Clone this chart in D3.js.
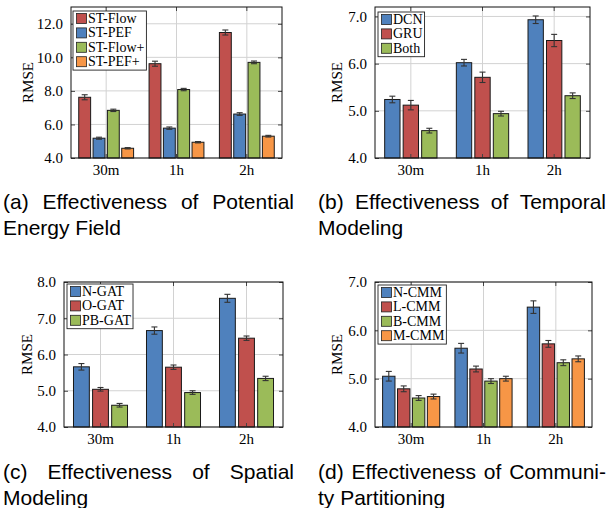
<!DOCTYPE html>
<html><head><meta charset="utf-8">
<script src="https://cdn.jsdelivr.net/npm/d3@7"></script>
<style>body{margin:0;background:#fff} svg{display:block}</style>
</head><body>
<script>
// ---------- DATA ----------
const categories = ["30m", "1h", "2h"];

const seriesA = ["ST-Flow", "ST-PEF", "ST-Flow+", "ST-PEF+"];
const valuesA = [[7.62, 9.62, 11.48], [5.18, 5.78, 6.62], [6.84, 8.08, 9.70], [4.58, 4.94, 5.30]];
const errorsA = [[0.15, 0.15, 0.15], [0.06, 0.07, 0.08], [0.07, 0.07, 0.08], [0.04, 0.04, 0.05]];
const ticksA = [4, 6, 8, 10, 12];
const captionA = ["(a) Effectiveness of Potential", "Energy Field"];

const seriesB = ["DCN", "GRU", "Both"];
const valuesB = [[5.24, 6.02, 6.93], [5.12, 5.71, 6.49], [4.58, 4.94, 5.32]];
const errorsB = [[0.07, 0.07, 0.08], [0.10, 0.11, 0.13], [0.05, 0.05, 0.06]];
const ticksB = [4, 5, 6, 7];
const captionB = ["(b) Effectiveness of Temporal", "Modeling"];

const seriesC = ["N-GAT", "O-GAT", "PB-GAT"];
const valuesC = [[5.66, 6.66, 7.55], [5.04, 5.65, 6.45], [4.60, 4.95, 5.34]];
const errorsC = [[0.09, 0.10, 0.11], [0.05, 0.06, 0.06], [0.05, 0.05, 0.06]];
const ticksC = [4, 5, 6, 7, 8];
const captionC = ["(c) Effectiveness of Spatial", "Modeling"];

const seriesD = ["N-CMM", "L-CMM", "B-CMM", "M-CMM"];
const valuesD = [[5.05, 5.63, 6.48], [4.79, 5.20, 5.72], [4.60, 4.95, 5.33], [4.63, 5.00, 5.41]];
const errorsD = [[0.10, 0.10, 0.13], [0.06, 0.06, 0.07], [0.05, 0.05, 0.06], [0.05, 0.05, 0.06]];
const ticksD = [4, 5, 6, 7];
const captionD = ["(d) Effectiveness of Communi-", "ty Partitioning"];

// ---------- STYLE / LAYOUT ----------
const RED = "#c0504d", BLUE = "#4f81bd", GREEN = "#9bbb59", ORANGE = "#f79646";
const SERIF = "'Liberation Serif', 'Times New Roman', serif";
const SANS = "'Liberation Sans', Arial, Helvetica, sans-serif";

const panels = [
  {series: seriesA, values: valuesA, errors: errorsA, ticks: ticksA, domain: [4, 13],
   colors: [RED, BLUE, GREEN, ORANGE], frame: [71, 282, 7, 158], group: 0.78,
   legend: [73, 11], ylabX: 27.5, caption: captionA, cap: [3, 294, 209]},
  {series: seriesB, values: valuesB, errors: errorsB, ticks: ticksB, domain: [4, 7.2],
   colors: [BLUE, RED, GREEN], frame: [375, 590, 7, 158], group: 0.73,
   legend: [378, 12], ylabX: 337, caption: captionB, cap: [318, 606, 209]},
  {series: seriesC, values: valuesC, errors: errorsC, ticks: ticksC, domain: [4, 8],
   colors: [BLUE, RED, GREEN], frame: [64, 283, 282, 427], group: 0.74,
   legend: [67, 284], ylabX: 27, caption: captionC, cap: [3, 294, 479]},
  {series: seriesD, values: valuesD, errors: errorsD, ticks: ticksD, domain: [4, 7],
   colors: [BLUE, RED, GREEN, ORANGE], frame: [375, 592, 282, 427], group: 0.79,
   legend: [378, 285], ylabX: 337, caption: captionD, cap: [318, 606, 479]}
];

const svg = d3.select("body").append("svg").attr("width", 608).attr("height", 508);

panels.forEach(p => {
  const [x0, x1, y0, y1] = p.frame;
  const g = svg.append("g");
  const x = d3.scaleBand().domain(categories).range([x0, x1]).padding(0);
  const y = d3.scaleLinear().domain(p.domain).range([y1, y0]);
  const gw = x.bandwidth() * p.group;
  const xi = d3.scaleBand().domain(p.series).range([0, gw]).paddingInner(0.17);

  // grid
  g.append("g").selectAll("line").data(p.ticks).join("line")
    .attr("x1", x0).attr("x2", x1).attr("y1", d => y(d)).attr("y2", d => y(d))
    .attr("stroke", "#d2d2d2").attr("stroke-width", 1);
  g.append("g").selectAll("line").data(categories).join("line")
    .attr("x1", d => x(d) + x.bandwidth() / 2).attr("x2", d => x(d) + x.bandwidth() / 2)
    .attr("y1", y0).attr("y2", y1)
    .attr("stroke", "#d2d2d2").attr("stroke-width", 1);

  // bars
  p.series.forEach((s, si) => {
    const data = categories.map((c, ci) => ({c, v: p.values[si][ci], e: p.errors[si][ci]}));
    const bx = d => x(d.c) + x.bandwidth() / 2 - gw / 2 + xi(s);
    g.append("g").selectAll("rect").data(data).join("rect")
      .attr("x", bx).attr("width", xi.bandwidth())
      .attr("y", d => y(d.v)).attr("height", d => y(p.domain[0]) - y(d.v))
      .attr("fill", p.colors[si]).attr("stroke", "#1a1a1a").attr("stroke-width", 1);
    const eb = g.append("g").attr("stroke", "#333").attr("stroke-width", 1.1);
    data.forEach(d => {
      const cx = bx(d) + xi.bandwidth() / 2;
      eb.append("line").attr("x1", cx).attr("x2", cx).attr("y1", y(d.v - d.e)).attr("y2", y(d.v + d.e));
      eb.append("line").attr("x1", cx - 3).attr("x2", cx + 3).attr("y1", y(d.v - d.e)).attr("y2", y(d.v - d.e));
      eb.append("line").attr("x1", cx - 3).attr("x2", cx + 3).attr("y1", y(d.v + d.e)).attr("y2", y(d.v + d.e));
    });
  });

  // axes (inward ticks, mirrored)
  const fmt = d3.format(".1f");
  const left = g.append("g").attr("transform", `translate(${x0},0)`)
    .call(d3.axisLeft(y).tickValues(p.ticks).tickFormat(fmt).tickSizeInner(-4).tickSizeOuter(0).tickPadding(8));
  const right = g.append("g").attr("transform", `translate(${x1},0)`)
    .call(d3.axisRight(y).tickValues(p.ticks).tickFormat("").tickSizeInner(-4).tickSizeOuter(0));
  const bottom = g.append("g").attr("transform", `translate(0,${y1})`)
    .call(d3.axisBottom(x).tickSizeInner(-4).tickSizeOuter(0).tickPadding(6));
  const top = g.append("g").attr("transform", `translate(0,${y0})`)
    .call(d3.axisTop(x).tickFormat("").tickSizeInner(-4).tickSizeOuter(0));
  [left, right, bottom, top].forEach(a => {
    a.select(".domain").remove();
    a.selectAll(".tick line").attr("stroke", "#444");
    a.selectAll("text").attr("font-family", SERIF).attr("fill", "#000");
  });
  left.selectAll("text").attr("font-size", 15);
  bottom.selectAll("text").attr("font-size", 15);

  // frame
  g.append("rect").attr("x", x0).attr("y", y0).attr("width", x1 - x0).attr("height", y1 - y0)
    .attr("fill", "none").attr("stroke", "#111").attr("stroke-width", 1);

  // y label
  g.append("text").attr("transform", `translate(${p.ylabX},${(y0 + y1) / 2}) rotate(-90)`)
    .attr("text-anchor", "middle").attr("dominant-baseline", "central")
    .attr("font-family", SERIF).attr("font-size", 15).text("RMSE");

  // legend
  const [lx, ly] = p.legend;
  const rowH = 14.4;
  const lg = g.append("g");
  const box = lg.append("rect").attr("x", lx).attr("y", ly).attr("height", p.series.length * rowH + 1.5)
    .attr("fill", "#fff").attr("stroke", "#222").attr("stroke-width", 0.9);
  let maxW = 0;
  p.series.forEach((s, si) => {
    const cy = ly + 7.5 + si * rowH;
    lg.append("rect").attr("x", lx + 3.5).attr("y", cy - 5).attr("width", 10).attr("height", 10)
      .attr("fill", p.colors[si]).attr("stroke", "#222").attr("stroke-width", 0.8);
    const t = lg.append("text").attr("x", lx + 15).attr("y", cy).attr("dominant-baseline", "central")
      .attr("font-family", SERIF).attr("font-size", 14).text(s);
    maxW = Math.max(maxW, t.node().getComputedTextLength());
  });
  box.attr("width", 15 + maxW + 2);

  // caption
  const [cx0, cx1, cy0] = p.cap;
  const lineH = 25.5;
  p.caption.forEach((line, li) => {
    const yy = cy0 + li * lineH;
    const justify = li < p.caption.length - 1;
    const words = line.split(" ");
    const t = svg.append("text").attr("y", yy).attr("font-family", SANS).attr("font-size", 21).attr("fill", "#000");
    if (!justify) { t.attr("x", cx0).text(line); return; }
    const spans = words.map(w => t.append("tspan").text(w));
    const widths = spans.map(s => s.node().getComputedTextLength());
    const total = d3.sum(widths);
    const gap = (cx1 - cx0 - total) / (words.length - 1);
    let cur = cx0;
    spans.forEach((s, i) => { s.attr("x", cur); cur += widths[i] + gap; });
  });
});
</script>
</body></html>
